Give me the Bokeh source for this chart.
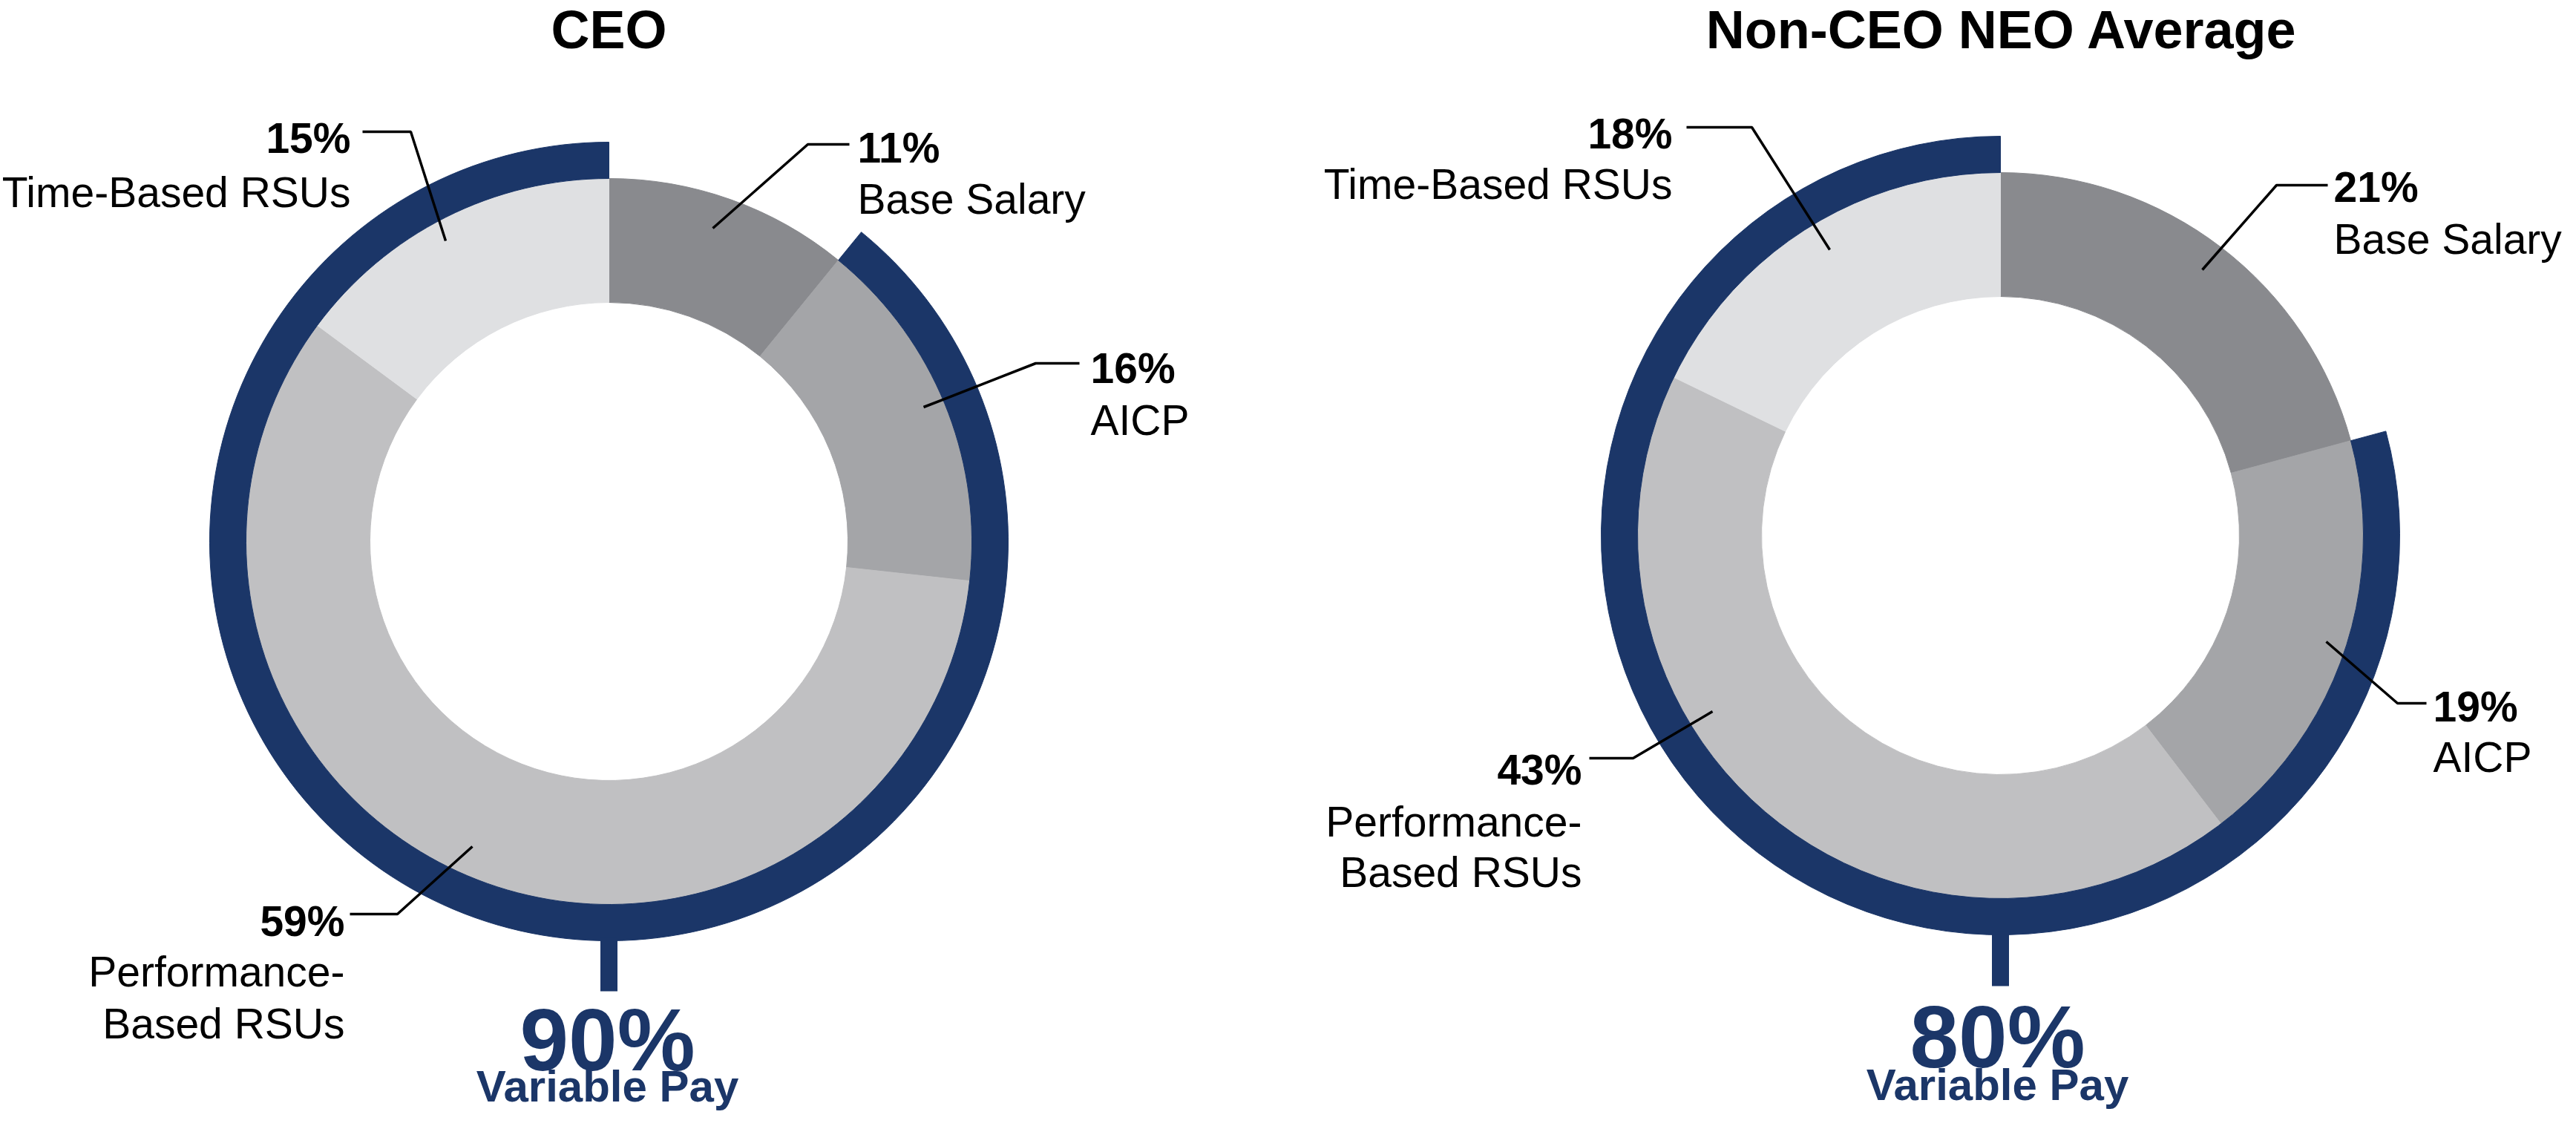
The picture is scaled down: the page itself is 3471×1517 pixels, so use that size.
import numpy as np
from bokeh.plotting import figure
from bokeh.models import Range1d
from bokeh.core.properties import value
from bokeh.embed import file_html
from bokeh.resources import INLINE

# ---------------- data ----------------
categories = ["Base Salary", "AICP", "Performance-Based RSUs", "Time-Based RSUs"]
category_lines = [["Base Salary"], ["AICP"], ["Performance-", "Based RSUs"], ["Time-Based RSUs"]]
ceo_values = [11, 16, 59, 15]
neo_values = [21, 19, 43, 18]
variable_pay = [90, 80]
titles = ["CEO", "Non-CEO NEO Average"]
variable_label = "Variable Pay"

# ---------------- styles ----------------
slice_colors = ["#898a8e", "#a4a5a8", "#c0c0c2", "#dfe0e2"]
NAVY = "#1b3668"
FONT = value("Liberation Sans")
DESC = 0.21  # baseline correction (fraction of font size)

W, H = 3455, 1501
PAGE_H = 1517


def Y(py):
    return PAGE_H - py


def TY(py, size):
    # y anchor for a text whose baseline should sit at pixel row py
    return PAGE_H - (py - DESC * size)


R_IN, R_MID, R_OUT = 322, 489, 538
LBL = 57

layouts = [
    dict(cx=828, cy=737, title_x=828, title_y=63, big_x=826, big_y=1433, vp_y=1484, stem_bottom=1343,
         labels=[("left", 1163, 218, [287]),
                 ("left", 1477, 515, [585]),
                 ("right", 472, 1260, [1328, 1398]),
                 ("right", 480, 205, [278])],
         leaders=[[(968, 315), (1096, 202), (1152, 202)],
                  [(1252, 556), (1403, 497), (1462, 497)],
                  [(644, 1148), (543, 1239), (479, 1239)],
                  [(608, 332), (561, 185), (496, 185)]]),
    dict(cx=2703, cy=729, title_x=2705, title_y=63, big_x=2699, big_y=1429, vp_y=1482, stem_bottom=1336,
         labels=[("left", 3152, 271, [341]),
                 ("left", 3286, 971, [1039]),
                 ("right", 2139, 1056, [1126, 1194]),
                 ("right", 2261, 199, [267])],
         leaders=[[(2975, 371), (3075, 257), (3144, 257)],
                  [(3142, 872), (3238, 955), (3277, 955)],
                  [(2315, 966), (2208, 1029), (2149, 1029)],
                  [(2473, 344), (2368, 179), (2280, 179)]]),
]

p = figure(width=W, height=H,
           x_range=Range1d(8, 8 + W), y_range=Range1d(PAGE_H - 8 - H, PAGE_H - 8),
           output_backend="svg", toolbar_location=None,
           x_axis_type=None, y_axis_type=None, min_border=0,
           outline_line_color=None)
p.background_fill_color = "white"
p.border_fill_color = "white"


def add_text(x, py, txt, size, bold, align, color="black"):
    p.text(x=[x], y=[TY(py, size)], text=[txt], text_font=FONT, text_font_size=f"{size}px",
           text_font_style="bold" if bold else "normal", text_align=align,
           text_baseline="alphabetic", text_color=color)


for vals, vp, title, L in zip([ceo_values, neo_values], variable_pay, titles, layouts):
    v = np.array(vals, dtype=float)
    frac = v / v.sum()
    cum_end = np.cumsum(frac) * 2 * np.pi
    cum_start = cum_end - frac * 2 * np.pi
    cx, cy = L["cx"], Y(L["cy"])

    # donut slices (clockwise from 12 o'clock)
    p.annular_wedge(x=[cx] * len(v), y=[cy] * len(v),
                    inner_radius=R_IN, outer_radius=R_MID,
                    start_angle=list(np.pi / 2 - cum_end),
                    end_angle=list(np.pi / 2 - cum_start),
                    direction="anticlock",
                    fill_color=slice_colors, line_color=slice_colors, line_width=1)

    # variable pay arc: everything except base salary
    p.annular_wedge(x=cx, y=cy, inner_radius=R_MID, outer_radius=R_OUT,
                    start_angle=np.pi / 2, end_angle=np.pi / 2 - cum_end[0],
                    direction="anticlock", fill_color=NAVY, line_color=NAVY, line_width=1)

    # stem
    p.quad(left=cx - 11.5, right=cx + 11.5, top=cy - R_OUT + 4, bottom=Y(L["stem_bottom"]),
           fill_color=NAVY, line_color=None)

    # leader lines
    xs = [[pt[0] for pt in seg] for seg in L["leaders"]]
    ys = [[Y(pt[1]) for pt in seg] for seg in L["leaders"]]
    p.multi_line(xs, ys, line_color="black", line_width=3.5)

    # labels
    for (align, lx, py, name_ys), val, lines in zip(L["labels"], vals, category_lines):
        add_text(lx, py, f"{val}%", LBL, True, align)
        for ln, ny in zip(lines, name_ys):
            add_text(lx, ny, ln, LBL, False, align)

    # title
    add_text(L["title_x"], L["title_y"], title, 72, True, "center")

    # variable pay
    add_text(L["big_x"], L["big_y"], f"{vp}%", 118, True, "center", NAVY)
    add_text(L["big_x"], L["vp_y"], variable_label, 60, True, "center", NAVY)

open("out.html", "w").write(file_html(p, INLINE))
